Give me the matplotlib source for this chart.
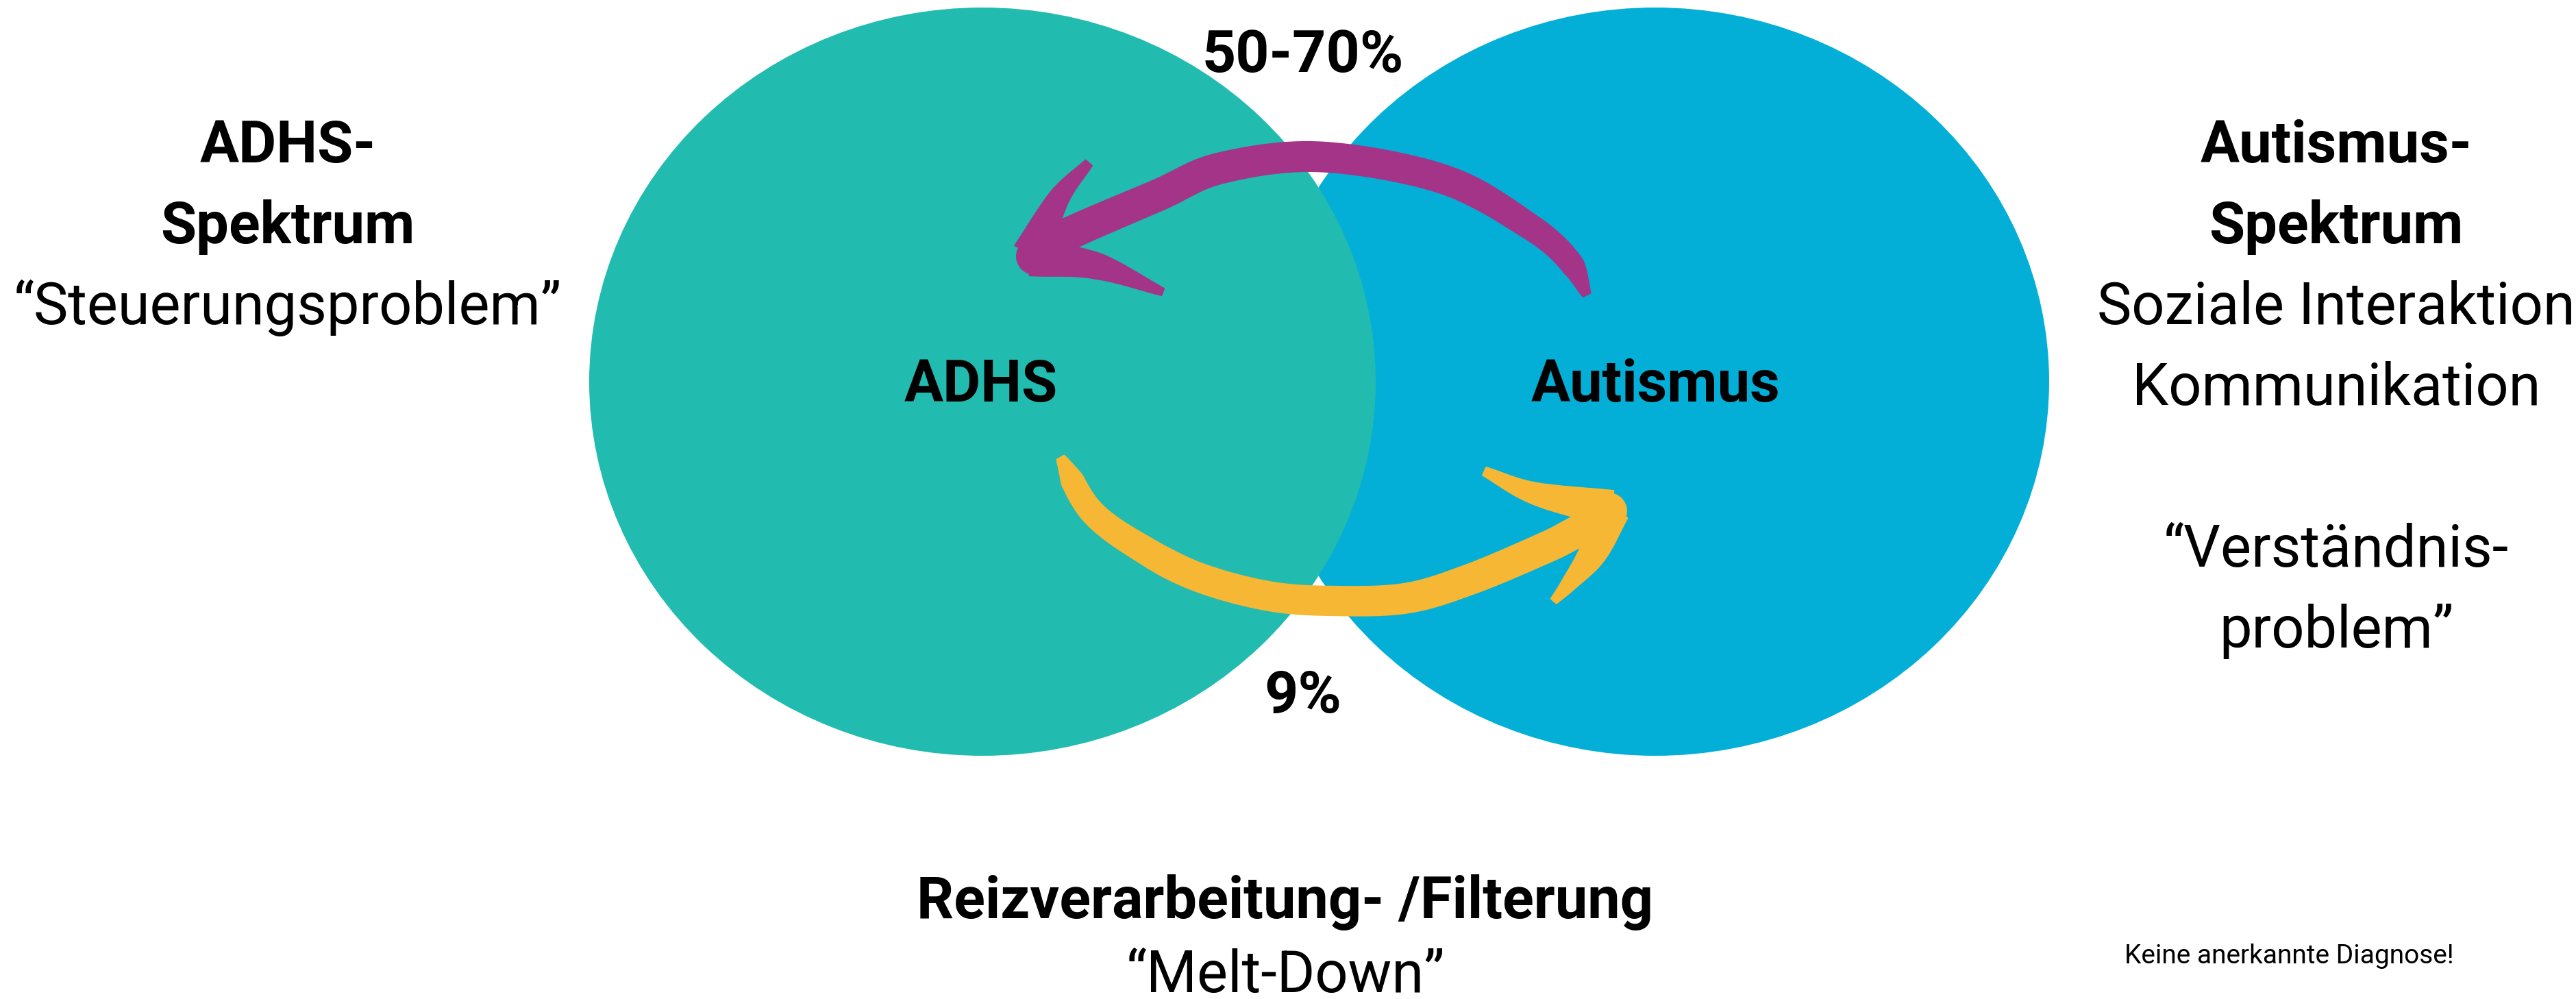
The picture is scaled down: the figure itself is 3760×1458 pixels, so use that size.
import numpy as np
import matplotlib
matplotlib.use("Agg")
import matplotlib.pyplot as plt
from matplotlib.patches import Ellipse, Polygon, Circle

# texts of the diagram
circle_labels = ["ADHS", "Autismus"]
overlap_labels = ["50-70%", "9%"]
left_title = ["ADHS-", "Spektrum"]
left_note = ["\u201cSteuerungsproblem\u201d"]
right_title = ["Autismus-", "Spektrum"]
right_notes = ["Soziale Interaktion", "Kommunikation", "", "\u201cVerst\u00e4ndnis-", "problem\u201d"]
bottom_lines = ["Reizverarbeitung- /Filterung", "\u201cMelt-Down\u201d"]
footnote = "Keine anerkannte Diagnose!"

TEAL = "#22BBAF"
BLUE = "#03AFD7"
PURPLE = "#A43487"
YELLOW = "#F6B735"

plt.rcParams["font.family"] = ["Roboto", "DejaVu Sans"]

W, H = 3760, 1458
fig = plt.figure(figsize=(W / 100, H / 100), dpi=100)
ax = fig.add_axes([0, 0, 1, 1])
ax.set_xlim(0, W)
ax.set_ylim(H, 0)
ax.axis("off")


def catmull(pts, n=30):
    pts = np.asarray(pts, float)
    p = np.vstack([2 * pts[0] - pts[1], pts, 2 * pts[-1] - pts[-2]])
    out = []
    for i in range(1, len(p) - 2):
        p0, p1, p2, p3 = p[i - 1], p[i], p[i + 1], p[i + 2]
        for t in np.linspace(0, 1, n, endpoint=False):
            t2, t3 = t * t, t * t * t
            out.append(0.5 * ((2 * p1) + (-p0 + p2) * t
                              + (2 * p0 - 5 * p1 + 4 * p2 - p3) * t2
                              + (-p0 + 3 * p1 - 3 * p2 + p3) * t3))
    out.append(p[-2])
    return np.array(out)


def brush(pts, wpos, wval, color):
    c = catmull(pts)
    seg = np.hypot(*np.diff(c, axis=0).T)
    s = np.concatenate([[0], np.cumsum(seg)])
    s = s / s[-1]
    w = np.interp(s, wpos, wval)
    d = np.gradient(c, axis=0)
    d = d / np.hypot(d[:, 0], d[:, 1])[:, None]
    nrm = np.column_stack([-d[:, 1], d[:, 0]])
    left = c + nrm * w[:, None] / 2
    right = c - nrm * w[:, None] / 2
    poly = np.vstack([left, right[::-1]])
    ax.add_patch(Polygon(poly, closed=True, facecolor=color, edgecolor=color,
                         linewidth=2, joinstyle="round", zorder=3))


# circles
ax.add_patch(Ellipse((2416, 557), 2 * 575, 2 * 546, facecolor=BLUE, edgecolor="none", zorder=1))
ax.add_patch(Ellipse((1434, 557), 2 * 574, 2 * 546, facecolor=TEAL, edgecolor="none", zorder=2))

# purple arrow (Autismus -> ADHS)
brush([(2316, 430), (2290, 380), (2232, 330), (2108, 262), (1929, 229),
       (1783, 245), (1690, 285), (1569, 337), (1515, 366)],
      [0, 0.05, 0.25, 1], [12, 32, 40, 46], PURPLE)
brush([(1506, 370), (1545, 290), (1589, 238)], [0, 0.4, 1], [54, 36, 12], PURPLE)
brush([(1506, 376), (1600, 388), (1697, 426)], [0, 0.5, 1], [52, 36, 10], PURPLE)
ax.add_patch(Circle((1510, 374), 27, facecolor=PURPLE, edgecolor="none", zorder=3))

# yellow arrow (ADHS -> Autismus)
brush([(1548, 668), (1594, 747), (1671, 803), (1751, 843), (1852, 870),
       (1946, 877), (2053, 873), (2147, 845), (2254, 800), (2294, 780), (2345, 752)],
      [0, 0.04, 0.25, 1], [12, 32, 40, 44], YELLOW)
brush([(2350, 742), (2240, 720), (2167, 688)], [0, 0.5, 1], [52, 34, 12], YELLOW)
brush([(2350, 746), (2326, 805), (2290, 852), (2268, 877)], [0, 0.5, 1], [54, 36, 10], YELLOW)
ax.add_patch(Circle((2348, 746), 27, facecolor=YELLOW, edgecolor="none", zorder=3))

fs = 61
kw = dict(ha="center", va="baseline", color="black", zorder=4)

# circle labels
ax.text(1432, 586, circle_labels[0], fontsize=fs, fontweight="bold", **kw)
ax.text(2417, 586, circle_labels[1], fontsize=fs, fontweight="bold", **kw)

# overlap percentages
ax.text(1902, 105, overlap_labels[0], fontsize=62, fontweight="bold", **kw)
ax.text(1902, 1040, overlap_labels[1], fontsize=62, fontweight="bold", **kw)

# left block
step = 118
for i, line in enumerate(left_title):
    ax.text(420, 237 + i * step, line, fontsize=fs, fontweight="bold", **kw)
ax.text(420, 473, left_note[0], fontsize=fs, **kw)

# right block
for i, line in enumerate(right_title):
    ax.text(3410, 237 + i * step, line, fontsize=fs, fontweight="bold", **kw)
for i, line in enumerate(right_notes):
    if line:
        ax.text(3410, 473 + i * step, line, fontsize=fs, **kw)

# bottom
ax.text(1876, 1340, bottom_lines[0], fontsize=fs, fontweight="bold", **kw)
ax.text(1876, 1448, bottom_lines[1], fontsize=fs, **kw)

ax.text(3341, 1406, footnote, fontsize=28, **kw)

fig.savefig("out.png", dpi=100, facecolor="white")
